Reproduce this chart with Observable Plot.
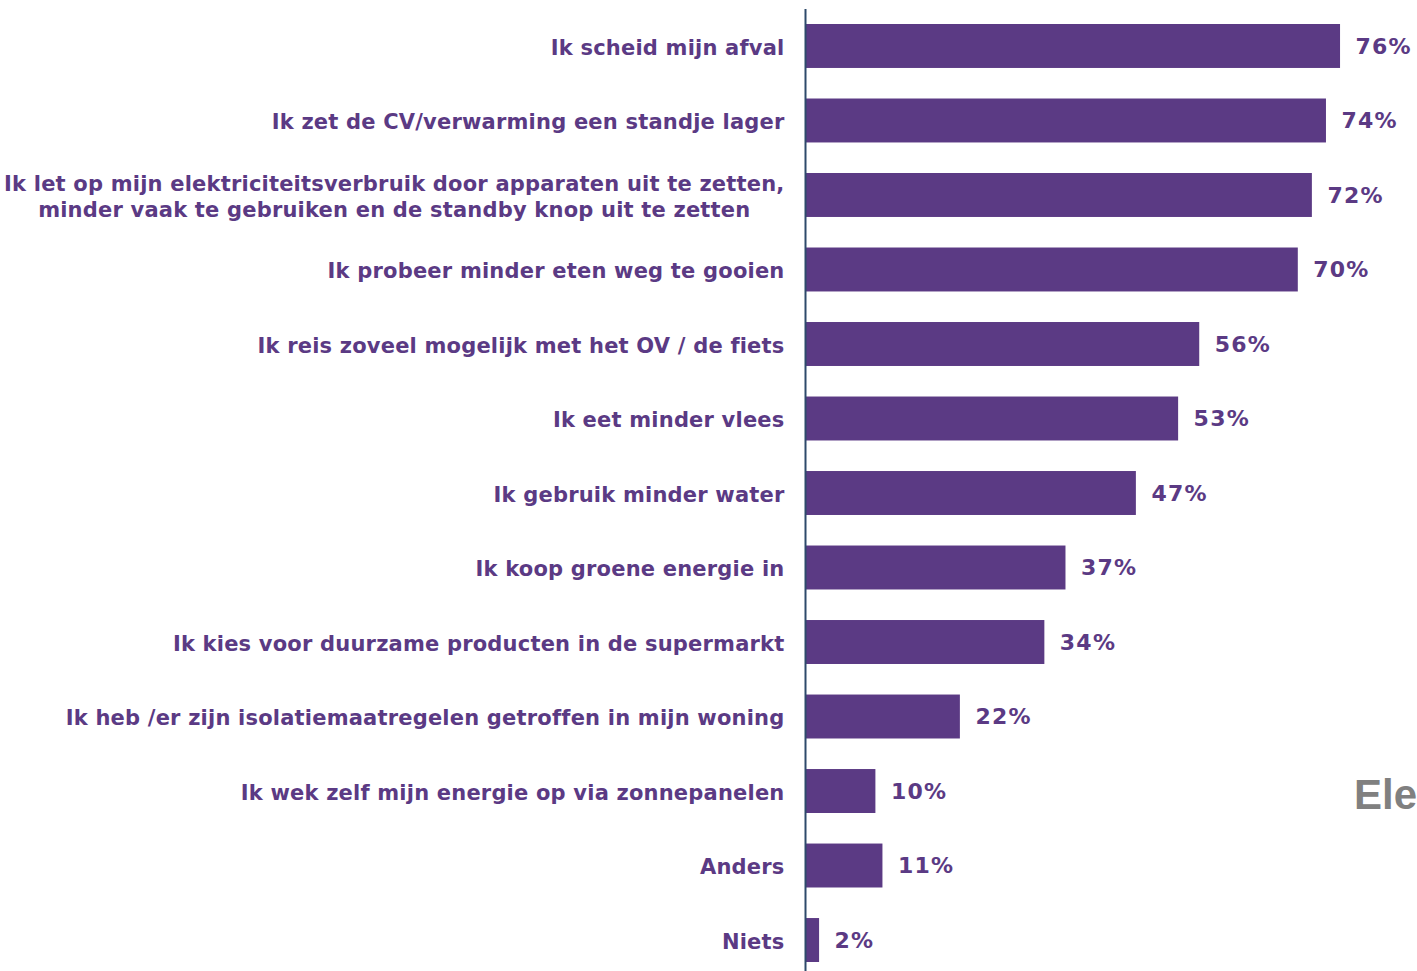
<!DOCTYPE html>
<html>
<head>
<meta charset="utf-8">
<script src="https://cdn.jsdelivr.net/npm/d3@7"></script>
<script src="https://cdn.jsdelivr.net/npm/@observablehq/plot@0.6"></script>
<style>
  html, body { margin: 0; padding: 0; background: #fff; overflow: hidden; }
  #wrap { position: relative; width: 1417px; height: 971px; overflow: hidden; }
  #side { position: absolute; left: 1354px; top: 771px; font-family: "Liberation Sans", Arial, sans-serif; font-weight: bold; font-size: 42px; color: #808080; white-space: nowrap; }
</style>
</head>
<body>
<div id="wrap"><div id="side">Elektriciteit</div></div>
<script>
const categories = [
  "Ik scheid mijn afval",
  "Ik zet de CV/verwarming een standje lager",
  "Ik let op mijn elektriciteitsverbruik door apparaten uit te zetten,\nminder vaak te gebruiken en de standby knop uit te zetten",
  "Ik probeer minder eten weg te gooien",
  "Ik reis zoveel mogelijk met het OV / de fiets",
  "Ik eet minder vlees",
  "Ik gebruik minder water",
  "Ik koop groene energie in",
  "Ik kies voor duurzame producten in de supermarkt",
  "Ik heb /er zijn isolatiemaatregelen getroffen in mijn woning",
  "Ik wek zelf mijn energie op via zonnepanelen",
  "Anders",
  "Niets"
];
const values = [76, 74, 72, 70, 56, 53, 47, 37, 34, 22, 10, 11, 2];

const data = categories.map((c, i) => ({category: c, value: values[i]}));
const purple = "#5b3a84";
const font = "'DejaVu Sans', Verdana, sans-serif";

const chart = Plot.plot({
  width: 1417,
  height: 971,
  marginTop: 9,
  marginBottom: 0,
  marginLeft: 805,
  marginRight: 0,
  style: {fontFamily: font, background: "#fff"},
  x: {domain: [0, 100], range: [805, 1509], axis: null},
  y: {domain: categories, range: [24, 962], paddingInner: 0.41, paddingOuter: 0, round: false, axis: null},
  marks: [
    Plot.barX(data, {x: "value", y: "category", fill: purple}),
    Plot.ruleX([0], {stroke: "#2e4a6b", strokeWidth: 2}),
    Plot.text(data, {
      x: 0, y: "category", text: "category",
      textAnchor: "end", dx: -21, fill: purple,
      fontSize: 21, fontWeight: "bold", lineHeight: 1.25
    }),
    Plot.text(data, {
      x: "value", y: "category", text: d => d.value + "%",
      textAnchor: "start", dx: 15, fill: purple,
      fontSize: 22, fontWeight: "bold"
    })
  ]
});

document.getElementById("wrap").prepend(chart);

chart.querySelectorAll('g[font-size="21"]').forEach(g => g.setAttribute("letter-spacing", "0.2px"));
chart.querySelectorAll('g[font-size="22"]').forEach(g => g.setAttribute("letter-spacing", "1.2px"));

// center-align lines of multi-line category labels (block stays right-aligned)
chart.querySelectorAll("text").forEach(t => {
  const spans = t.querySelectorAll("tspan");
  if (spans.length > 1) {
    const w = t.getBBox().width;
    t.setAttribute("text-anchor", "middle");
    spans.forEach(s => s.setAttribute("x", -w / 2));
  }
});
</script>
</body>
</html>
